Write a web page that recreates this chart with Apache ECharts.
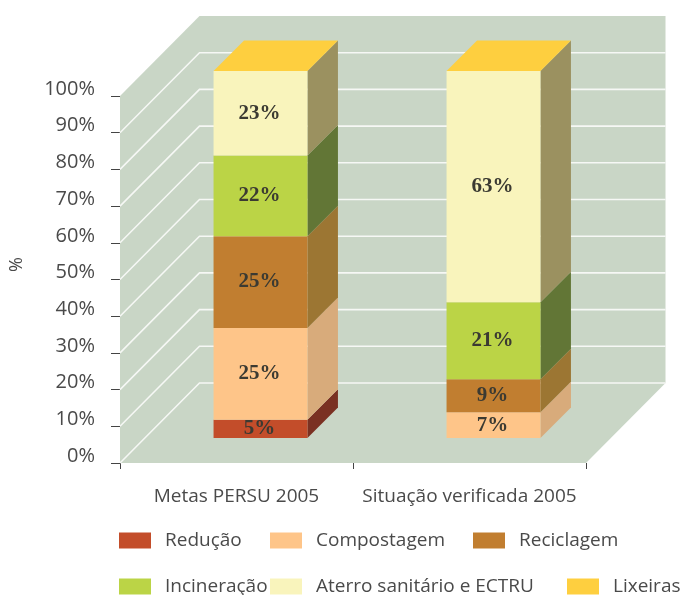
<!DOCTYPE html>
<html>
<head>
<meta charset="utf-8">
<style>html,body{margin:0;padding:0;background:#fff}#c{width:681px;height:595px}</style>
<script src="https://cdn.jsdelivr.net/npm/echarts@6/dist/echarts.min.js"></script>
</head>
<body>
<div id="c"></div>
<script>
const categories = ['Metas PERSU 2005', 'Situação verificada 2005'];
const tickValues = [0, 10, 20, 30, 40, 50, 60, 70, 80, 90, 100];
const reducao = [5, 0];
const compostagem = [25, 7];
const reciclagem = [25, 9];
const incineracao = [22, 21];
const aterro = [23, 63];
const lixeiras = [0, 0];

const seriesDefs = [
  { name: 'Redução', values: reducao, front: '#c34d2a', side: '#7a3122' },
  { name: 'Compostagem', values: compostagem, front: '#fec589', side: '#d8ab7b' },
  { name: 'Reciclagem', values: reciclagem, front: '#c17e30', side: '#9c7633' },
  { name: 'Incineração', values: incineracao, front: '#bbd446', side: '#627636' },
  { name: 'Aterro sanitário e ECTRU', values: aterro, front: '#f9f4bc', side: '#9b9160' },
  { name: 'Lixeiras', values: lixeiras, front: '#fecf3f', side: '#fecf3f', top: true }
];

const WALL_DX = 79.5, WALL_DY = 80;
const BAR_DX = 24, BAR_DY = 25, BAR_DEPTH = 30.5, BAR_RATIO = 0.403;

const legendPos = [
  [119, 531], [270, 531], [473, 531],
  [119, 577], [270, 577], [567, 577]
];

const cumul = [0, 0];
const barSeries = seriesDefs.map(def => {
  const data = def.values.map((v, i) => {
    const row = [i, cumul[i], cumul[i] + v, v];
    cumul[i] += v;
    return row;
  });
  return {
    type: 'custom',
    name: def.name,
    z: 5,
    itemStyle: { color: def.front },
    encode: { x: 0, y: [1, 2] },
    data: data,
    renderItem: function (params, api) {
      const cat = api.value(0), a = api.value(1), b = api.value(2), v = api.value(3);
      const w = api.size([1, 0])[0] * BAR_RATIO;
      const pa = api.coord([cat, a]), pb = api.coord([cat, b]);
      const x0 = pa[0] + BAR_DX - w / 2, x1 = x0 + w;
      const y0 = pa[1] - BAR_DY, y1 = pb[1] - BAR_DY;
      const children = [];
      if (def.top) {
        children.push({
          type: 'polygon',
          shape: { points: [[x0, y1], [x1, y1], [x1 + BAR_DEPTH, y1 - BAR_DEPTH], [x0 + BAR_DEPTH, y1 - BAR_DEPTH]] },
          style: { fill: def.front }
        });
      } else if (v > 0) {
        children.push({
          type: 'polygon',
          shape: { points: [[x1, y0], [x1 + BAR_DEPTH, y0 - BAR_DEPTH], [x1 + BAR_DEPTH, y1 - BAR_DEPTH], [x1, y1]] },
          style: { fill: def.side }
        });
        children.push({
          type: 'rect',
          shape: { x: x0, y: y1, width: w, height: y0 - y1 },
          style: { fill: def.front }
        });
        children.push({
          type: 'text',
          style: {
            text: v + '%',
            x: (x0 + x1) / 2 - 1,
            y: (y0 + y1) / 2,
            align: 'center',
            verticalAlign: 'middle',
            fill: '#3b3a32',
            font: 'bold 21px "Liberation Serif"'
          }
        });
      }
      return { type: 'group', children: children };
    }
  };
});

const wallSeries = {
  type: 'custom',
  name: 'wall',
  z: 1,
  silent: true,
  data: [[0, 0]],
  renderItem: function (params, api) {
    const c = params.coordSys;
    const yb = c.y + c.height, yt = c.y, xl = c.x, xr = c.x + c.width;
    return {
      type: 'polygon',
      shape: { points: [[xl, yb], [xl, yt], [xl + WALL_DX, yt - WALL_DY], [xr + WALL_DX, yt - WALL_DY], [xr + WALL_DX, yb - WALL_DY], [xr, yb]] },
      style: { fill: '#c9d6c6' }
    };
  }
};

const gridSeries = {
  type: 'custom',
  name: 'gridlines',
  z: 2,
  silent: true,
  encode: { y: 0 },
  data: tickValues.slice(0, -1).map(t => [t]),
  renderItem: function (params, api) {
    const c = params.coordSys;
    const y = api.coord([0, api.value(0)])[1];
    return {
      type: 'polyline',
      shape: { points: [[c.x, y], [c.x + WALL_DX, y - WALL_DY], [c.x + c.width + WALL_DX, y - WALL_DY]] },
      style: { stroke: '#f6f8f5', lineWidth: 1.6, fill: 'none' }
    };
  }
};

const textColor = '#4a4a4a';
const fontName = '"Open Sans"';

const option = {
  animation: false,
  backgroundColor: '#ffffff',
  tooltip: { show: false },
  grid: { left: 120, right: 95, top: 96, bottom: 132, containLabel: false, outerBoundsMode: 'none' },
  xAxis: {
    type: 'category',
    data: categories,
    axisLine: { show: false },
    axisTick: { show: true, length: 6, lineStyle: { color: '#444', width: 1 } },
    axisLabel: { margin: 24, fontSize: 19, color: textColor, fontFamily: fontName, interval: 0 }
  },
  yAxis: {
    type: 'value',
    min: 0,
    max: 100,
    interval: 10,
    name: '%',
    nameLocation: 'middle',
    nameRotate: 90,
    nameGap: 94,
    nameTextStyle: { fontSize: 18, color: textColor, fontFamily: fontName, padding: [0, 0, 0, 30] },
    axisLine: { show: false },
    splitLine: { show: false },
    axisTick: { show: true, length: 9, lineStyle: { color: '#444', width: 1 } },
    axisLabel: {
      margin: 25,
      fontSize: 20,
      color: textColor,
      fontFamily: fontName,
      verticalAlign: 'bottom',
      lineHeight: 14,
      formatter: '{value}%'
    }
  },
  legend: seriesDefs.map((d, i) => ({
    data: [d.name],
    left: legendPos[i][0],
    top: legendPos[i][1],
    padding: 0,
    icon: 'rect',
    itemWidth: 32,
    itemHeight: 16,
    selectedMode: false,
    textStyle: { fontSize: 19, color: textColor, fontFamily: fontName, padding: [0, 0, 0, 9] }
  })),
  series: [wallSeries, gridSeries].concat(barSeries)
};

const chart = echarts.init(document.getElementById('c'), null, { renderer: 'canvas' });
chart.setOption(option);
</script>
</body>
</html>
